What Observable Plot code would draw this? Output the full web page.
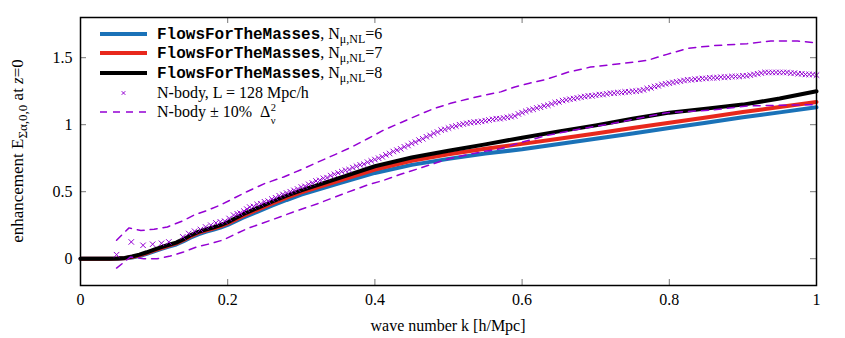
<!DOCTYPE html>
<html>
<head>
<meta charset="utf-8">
<script src="https://cdn.jsdelivr.net/npm/d3@7"></script>
<script src="https://cdn.jsdelivr.net/npm/@observablehq/plot@0.6"></script>
<style>
  html, body { margin: 0; padding: 0; background: #fff; }
  svg { display: block; }
</style>
</head>
<body>
<div id="chart"></div>
<script>
// ---------------- data ----------------
const kModel = [0, 0.02, 0.04, 0.05, 0.06, 0.07, 0.08, 0.09, 0.10, 0.11, 0.12, 0.13, 0.14, 0.15, 0.16, 0.17, 0.18, 0.19, 0.20, 0.22, 0.24, 0.26, 0.28, 0.30, 0.35, 0.40, 0.45, 0.50, 0.55, 0.60, 0.65, 0.70, 0.75, 0.80, 0.85, 0.90, 0.95, 1.00];
const fftm6 = [0, 0, 0, 0, 0.003, 0.009, 0.02, 0.036, 0.055, 0.073, 0.09, 0.106, 0.131, 0.158, 0.182, 0.2, 0.215, 0.232, 0.252, 0.305, 0.35, 0.395, 0.438, 0.478, 0.56, 0.64, 0.70, 0.745, 0.785, 0.817, 0.856, 0.895, 0.935, 0.975, 1.015, 1.055, 1.092, 1.13];
const fftm7 = [0, 0, 0, 0.001, 0.004, 0.012, 0.025, 0.042, 0.062, 0.08, 0.098, 0.114, 0.14, 0.168, 0.192, 0.21, 0.225, 0.242, 0.263, 0.318, 0.365, 0.41, 0.455, 0.495, 0.58, 0.665, 0.73, 0.78, 0.82, 0.857, 0.895, 0.935, 0.975, 1.014, 1.054, 1.094, 1.132, 1.17];
const fftm8 = [0, 0, 0, 0.002, 0.006, 0.016, 0.03, 0.048, 0.068, 0.086, 0.104, 0.12, 0.146, 0.176, 0.2, 0.218, 0.233, 0.25, 0.272, 0.33, 0.378, 0.425, 0.47, 0.51, 0.6, 0.69, 0.755, 0.805, 0.853, 0.903, 0.95, 0.995, 1.045, 1.09, 1.12, 1.15, 1.195, 1.25];

const kNbody = [0.049, 0.069, 0.085, 0.098, 0.110, 0.120, 0.139, 0.147, 0.155, 0.163, 0.170, 0.177, 0.184, 0.190, 0.196, 0.202, 0.208, 0.213, 0.217, 0.222, 0.226,
  0.230, 0.235, 0.240, 0.245, 0.250, 0.255, 0.260, 0.265, 0.270, 0.275, 0.280, 0.285, 0.290, 0.295, 0.300, 0.305, 0.310, 0.315, 0.320, 0.325, 0.330, 0.335, 0.340, 0.345, 0.350, 0.355, 0.360, 0.365, 0.370, 0.375, 0.380, 0.385, 0.390, 0.395, 0.400,
  0.405, 0.410, 0.415, 0.420, 0.425, 0.430, 0.435, 0.440, 0.445, 0.450, 0.455, 0.460, 0.465, 0.470, 0.475, 0.480, 0.485, 0.490, 0.495, 0.500, 0.505, 0.510, 0.515, 0.520, 0.525, 0.530, 0.535, 0.540, 0.545, 0.550, 0.555, 0.560, 0.565, 0.570, 0.575, 0.580, 0.585, 0.590, 0.595, 0.600,
  0.605, 0.610, 0.615, 0.620, 0.625, 0.630, 0.635, 0.640, 0.645, 0.650, 0.655, 0.660, 0.665, 0.670, 0.675, 0.680, 0.685, 0.690, 0.695, 0.700, 0.705, 0.710, 0.715, 0.720, 0.725, 0.730, 0.735, 0.740, 0.745, 0.750, 0.755, 0.760, 0.765, 0.770, 0.775, 0.780, 0.785, 0.790, 0.795, 0.800,
  0.805, 0.810, 0.815, 0.820, 0.825, 0.830, 0.835, 0.840, 0.845, 0.850, 0.855, 0.860, 0.865, 0.870, 0.875, 0.880, 0.885, 0.890, 0.895, 0.900, 0.905, 0.910, 0.915, 0.920, 0.925, 0.930, 0.935, 0.940, 0.945, 0.950, 0.955, 0.960, 0.965, 0.970, 0.975, 0.980, 0.985, 0.990, 0.995, 1.000];
const eNbody = [0.03, 0.125, 0.10, 0.108, 0.115, 0.125, 0.163, 0.188, 0.205, 0.218, 0.237, 0.25, 0.267, 0.275, 0.28, 0.30, 0.325, 0.335, 0.34, 0.355, 0.37,
  0.385, 0.39, 0.405, 0.41, 0.425, 0.43, 0.445, 0.455, 0.47, 0.48, 0.49, 0.50, 0.51, 0.52, 0.535, 0.54, 0.555, 0.565, 0.58, 0.585, 0.60, 0.605, 0.62, 0.63, 0.64, 0.65, 0.66, 0.665, 0.68, 0.69, 0.70, 0.705, 0.72, 0.73, 0.74,
  0.75, 0.76, 0.775, 0.785, 0.80, 0.81, 0.82, 0.835, 0.845, 0.86, 0.87, 0.885, 0.895, 0.91, 0.92, 0.935, 0.945, 0.96, 0.965, 0.975, 0.985, 0.99, 1.00, 1.005, 1.01, 1.015, 1.02, 1.02, 1.025, 1.03, 1.035, 1.04, 1.045, 1.045, 1.05, 1.055, 1.06, 1.065, 1.08, 1.09,
  1.10, 1.11, 1.115, 1.125, 1.13, 1.14, 1.145, 1.155, 1.165, 1.17, 1.18, 1.185, 1.19, 1.195, 1.20, 1.205, 1.21, 1.215, 1.215, 1.22, 1.225, 1.225, 1.23, 1.235, 1.235, 1.24, 1.24, 1.245, 1.245, 1.25, 1.25, 1.255, 1.26, 1.27, 1.275, 1.285, 1.29, 1.30, 1.305, 1.31,
  1.315, 1.32, 1.325, 1.33, 1.335, 1.335, 1.34, 1.34, 1.345, 1.345, 1.35, 1.35, 1.35, 1.355, 1.355, 1.355, 1.36, 1.36, 1.36, 1.365, 1.365, 1.37, 1.375, 1.38, 1.385, 1.39, 1.39, 1.39, 1.39, 1.39, 1.39, 1.39, 1.385, 1.385, 1.38, 1.38, 1.375, 1.375, 1.375, 1.37];

const kUpper = [0.049, 0.066, 0.082, 0.10, 0.118, 0.138, 0.156, 0.172, 0.19, 0.208, 0.226, 0.25, 0.276, 0.30, 0.322, 0.345, 0.367, 0.39, 0.412, 0.435, 0.458, 0.48, 0.503, 0.525, 0.548, 0.571, 0.589, 0.61, 0.634, 0.661, 0.693, 0.734, 0.77, 0.797, 0.825, 0.86, 0.906, 0.938, 0.974, 1.0];
const eUpper = [0.138, 0.23, 0.21, 0.22, 0.237, 0.28, 0.33, 0.36, 0.40, 0.45, 0.50, 0.56, 0.61, 0.665, 0.72, 0.775, 0.83, 0.895, 0.96, 1.015, 1.07, 1.12, 1.16, 1.19, 1.22, 1.245, 1.28, 1.31, 1.34, 1.39, 1.43, 1.456, 1.48, 1.525, 1.57, 1.59, 1.605, 1.625, 1.625, 1.61];
const kLower = [0.049, 0.068, 0.086, 0.104, 0.122, 0.14, 0.159, 0.177, 0.194, 0.213, 0.229, 0.26, 0.29, 0.322, 0.36, 0.39, 0.412, 0.435, 0.458, 0.48, 0.503, 0.525, 0.548, 0.571, 0.6, 0.634, 0.68, 0.724, 0.76, 0.797, 0.83, 0.86, 0.906, 0.95, 1.0];
const eLower = [-0.07, 0.013, 0.0, 0.0, 0.02, 0.05, 0.09, 0.113, 0.14, 0.19, 0.23, 0.29, 0.35, 0.41, 0.49, 0.55, 0.585, 0.63, 0.67, 0.71, 0.75, 0.775, 0.80, 0.82, 0.87, 0.92, 0.97, 1.01, 1.05, 1.09, 1.10, 1.11, 1.14, 1.145, 1.15];

const xTicks = [0, 0.2, 0.4, 0.6, 0.8, 1];
const yTicks = [0, 0.5, 1, 1.5];
const nValues = ["6", "7", "8"];

// ---------------- styling ----------------
const W = 845, H = 338;
const M = {left: 80, right: 29, top: 17, bottom: 53};
const xDom = [0, 1], yDom = [-0.2, 1.8];
const cBlue = "#1a72b8", cRed = "#e8281c", cBlack = "#000000", cPurple = "#9400d3";
const serif = "'Liberation Serif', 'DejaVu Serif', serif";
const mono = "'Liberation Mono', 'DejaVu Sans Mono', monospace";

const toRows = (ks, es) => ks.map((k, i) => ({k, e: es[i]}));
const rows6 = toRows(kModel, fftm6), rows7 = toRows(kModel, fftm7), rows8 = toRows(kModel, fftm8);
const rowsN = toRows(kNbody, eNbody), rowsU = toRows(kUpper, eUpper), rowsL = toRows(kLower, eLower);

// tick length in data units (inward ticks, mirrored on all sides)
const tx = 6 / (W - M.left - M.right) * (xDom[1] - xDom[0]);
const ty = 6 / (H - M.top - M.bottom) * (yDom[1] - yDom[0]);

const plot = Plot.plot({
  width: W, height: H,
  marginLeft: M.left, marginRight: M.right, marginTop: M.top, marginBottom: M.bottom,
  style: {fontFamily: serif, fontSize: "16px", color: "#000", background: "#fff"},
  x: {domain: xDom},
  y: {domain: yDom},
  marks: [
    Plot.ruleX(xTicks, {y1: yDom[0], y2: yDom[0] + ty, stroke: "#777", strokeWidth: 1}),
    Plot.ruleX(xTicks, {y1: yDom[1], y2: yDom[1] - ty, stroke: "#777", strokeWidth: 1}),
    Plot.ruleY(yTicks, {x1: xDom[0], x2: xDom[0] + tx, stroke: "#777", strokeWidth: 1}),
    Plot.ruleY(yTicks, {x1: xDom[1], x2: xDom[1] - tx, stroke: "#777", strokeWidth: 1}),
    Plot.line(rows6, {x: "k", y: "e", stroke: cBlue, strokeWidth: 4}),
    Plot.line(rows7, {x: "k", y: "e", stroke: cRed, strokeWidth: 4}),
    Plot.line(rows8, {x: "k", y: "e", stroke: cBlack, strokeWidth: 4}),
    Plot.dot(rowsN, {x: "k", y: "e", symbol: "times", r: 2.6, stroke: cPurple, strokeWidth: 1}),
    Plot.line(rowsU, {x: "k", y: "e", stroke: cPurple, strokeWidth: 1.5, strokeDasharray: "7,6"}),
    Plot.line(rowsL, {x: "k", y: "e", stroke: cPurple, strokeWidth: 1.5, strokeDasharray: "7,6"}),
    Plot.frame({stroke: "#000", strokeWidth: 1.5}),
    Plot.axisX(xTicks, {tickSize: 0, tickPadding: 8, label: null, tickFormat: d => String(d), fontSize: 16}),
    Plot.axisY(yTicks, {tickSize: 0, tickPadding: 8, label: null, tickFormat: d => String(d), fontSize: 16})
  ]
});

document.getElementById("chart").appendChild(plot);

// ---------------- legend and axis titles ----------------
const svg = d3.select(plot);
const g = svg.append("g").attr("font-family", serif).attr("font-size", 16).attr("fill", "#000")
  .attr("text-anchor", "start");

// x-axis title
g.append("text").attr("x", (M.left + W - M.right) / 2).attr("y", 331)
  .attr("text-anchor", "middle").text("wave number k [h/Mpc]");

// y-axis title (rotated)
const yt = g.append("text").attr("transform", `translate(23,${(M.top + H - M.bottom) / 2}) rotate(-90)`)
  .attr("text-anchor", "middle").attr("font-size", 17);
yt.append("tspan").text("enhancement E");
yt.append("tspan").attr("dy", 4).attr("font-size", 13).text("Σα,0,0");
yt.append("tspan").attr("dy", -4).text(" at ");
yt.append("tspan").attr("font-style", "italic").text("z");
yt.append("tspan").text("=0");

// legend
const lx0 = 100, lx1 = 147, tx0 = 157;
const ly = [34, 53, 73, 93, 112];
const lineColors = [cBlue, cRed, cBlack];
lineColors.forEach((c, i) => {
  g.append("line").attr("x1", lx0).attr("x2", lx1).attr("y1", ly[i]).attr("y2", ly[i])
    .attr("stroke", c).attr("stroke-width", 4);
  const t = g.append("text").attr("x", tx0).attr("y", ly[i] + 5).attr("text-anchor", "start");
  t.append("tspan").attr("font-family", mono).attr("font-weight", "bold").text("FlowsForTheMasses");
  t.append("tspan").text(", N");
  t.append("tspan").attr("dy", 4).attr("font-size", 12).text("μ,NL");
  t.append("tspan").attr("dy", -4).text("=" + nValues[i]);
});
// cross sample
const cx = (lx0 + lx1) / 2;
g.append("path").attr("d", `M${cx - 1.8},${ly[3] - 1.8}L${cx + 1.8},${ly[3] + 1.8}M${cx - 1.8},${ly[3] + 1.8}L${cx + 1.8},${ly[3] - 1.8}`)
  .attr("stroke", cPurple).attr("stroke-width", 1).attr("fill", "none");
g.append("text").attr("x", tx0).attr("y", ly[3] + 5).attr("text-anchor", "start").text("N-body, L = 128 Mpc/h");
// dashed sample
g.append("line").attr("x1", lx0).attr("x2", lx1).attr("y1", ly[4]).attr("y2", ly[4])
  .attr("stroke", cPurple).attr("stroke-width", 1.5).attr("stroke-dasharray", "7,6");
const dt = g.append("text").attr("x", tx0).attr("y", ly[4] + 5).attr("text-anchor", "start")
  .style("white-space", "pre").text("N-body ± 10%  Δ");
const bb = dt.node().getBBox();
g.append("text").attr("x", bb.x + bb.width + 0.5).attr("y", ly[4] - 1.5).attr("text-anchor", "start").attr("font-size", 10.5).text("2");
g.append("text").attr("x", bb.x + bb.width + 0.5).attr("y", ly[4] + 11.5).attr("text-anchor", "start").attr("font-size", 10.5).text("ν");
</script>
</body>
</html>
